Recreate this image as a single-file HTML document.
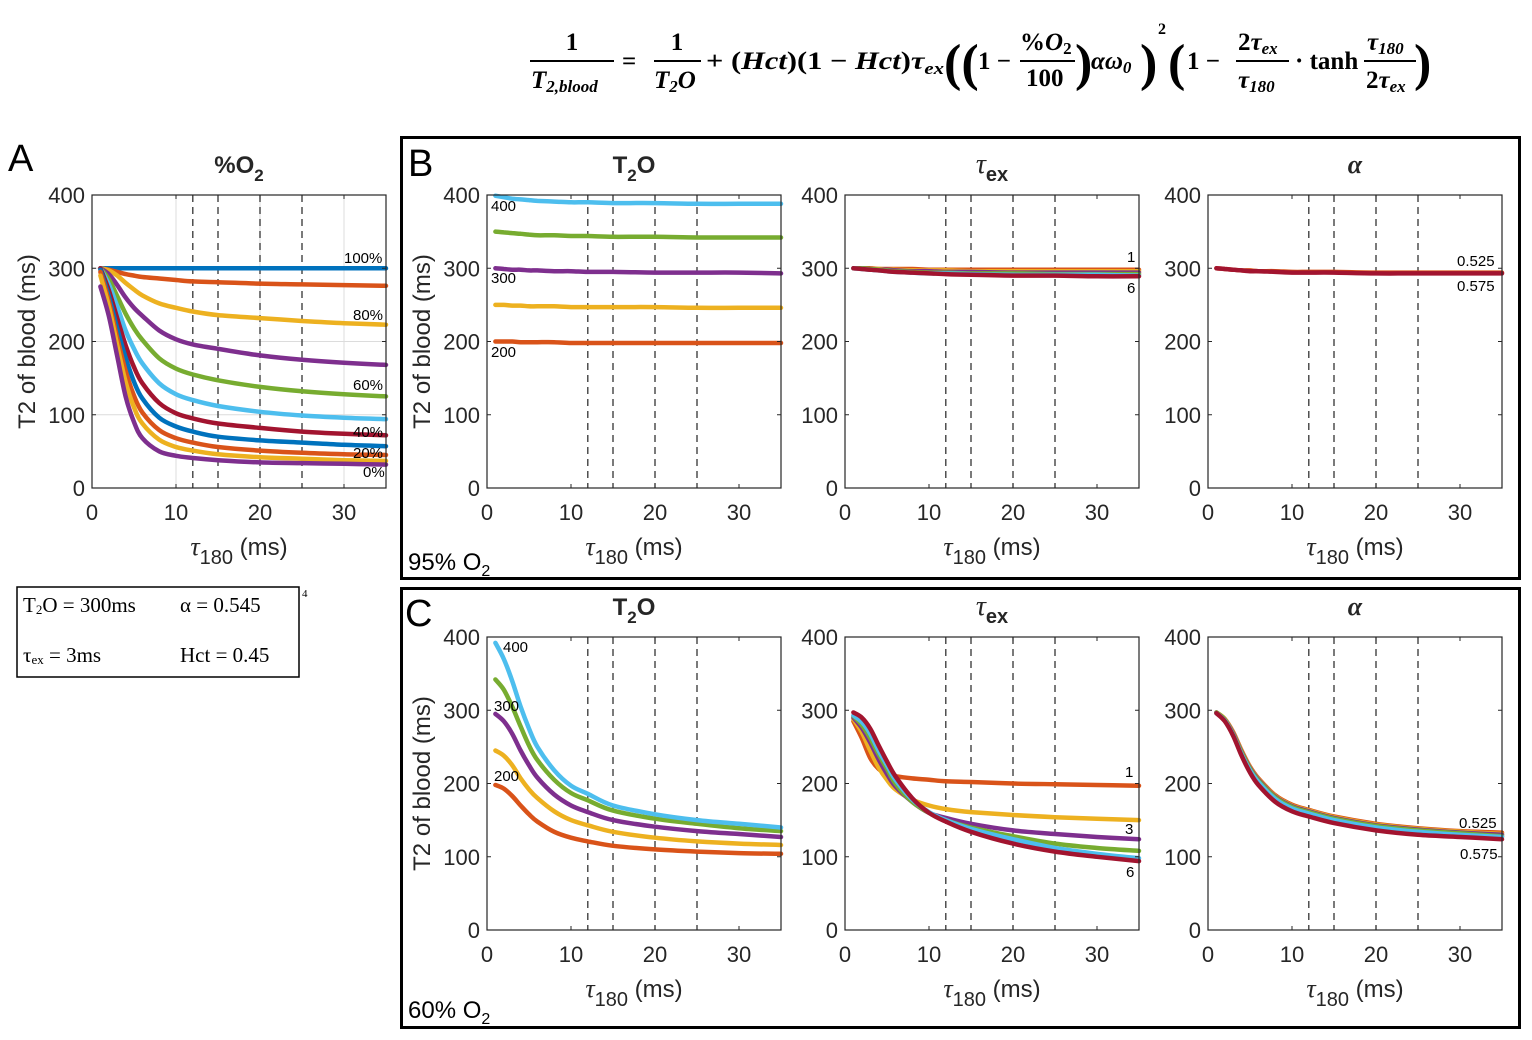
<!DOCTYPE html>
<html><head><meta charset="utf-8"><style>
html,body{margin:0;padding:0;background:#fff}
svg{display:block}
text{font-family:"Liberation Sans",sans-serif;fill:#262626}
.f{font-family:"Liberation Serif",serif;font-weight:bold;fill:#000}
</style></head><body>
<svg id="fig" width="1532" height="1040" viewBox="0 0 1532 1040" xmlns="http://www.w3.org/2000/svg">
<g id="formula" font-size="25">
<text class="f" x="572" y="50" text-anchor="middle">1</text>
<line x1="530" y1="61" x2="614" y2="61" stroke="#000" stroke-width="2"/>
<text class="f" x="531" y="88" font-style="italic">T<tspan font-size="17" dy="4">2,blood</tspan></text>
<text class="f" x="622" y="69">=</text>
<text class="f" x="677" y="50" text-anchor="middle">1</text>
<line x1="654" y1="61" x2="701" y2="61" stroke="#000" stroke-width="2"/>
<text class="f" x="654" y="88" font-style="italic">T<tspan font-size="17" dy="4">2</tspan><tspan dy="-4">O</tspan></text>
<text class="f" x="706" y="69" textLength="238" lengthAdjust="spacingAndGlyphs">+ (<tspan font-style="italic">Hct</tspan>)(1 − <tspan font-style="italic">Hct</tspan>)<tspan font-style="italic">τ</tspan><tspan font-size="17" dy="5" font-style="italic">ex</tspan></text>
<text class="f" x="944" y="80" font-size="52" font-weight="normal">((</text>
<text class="f" x="978" y="69">1 −</text>
<text class="f" x="1020" y="50">%<tspan font-style="italic">O</tspan><tspan font-size="17" dy="4">2</tspan></text>
<line x1="1020" y1="61" x2="1075" y2="61" stroke="#000" stroke-width="2"/>
<text class="f" x="1026" y="86">100</text>
<text class="f" x="1075" y="80" font-size="52" font-weight="normal">)</text>
<text class="f" x="1091" y="69" font-style="italic">αω<tspan font-size="17" dy="4">0</tspan></text>
<text class="f" x="1140" y="80" font-size="52" font-weight="normal">)</text>
<text class="f" x="1158" y="34" font-size="16">2</text>
<text class="f" x="1168" y="80" font-size="52" font-weight="normal">(</text>
<text class="f" x="1187" y="69">1 −</text>
<text class="f" x="1238" y="50">2<tspan font-style="italic">τ</tspan><tspan font-size="17" dy="4" font-style="italic">ex</tspan></text>
<line x1="1236" y1="61" x2="1289" y2="61" stroke="#000" stroke-width="2"/>
<text class="f" x="1238" y="88" font-style="italic">τ<tspan font-size="17" dy="4">180</tspan></text>
<text class="f" x="1295" y="69">· tanh</text>
<text class="f" x="1367" y="50" font-style="italic">τ<tspan font-size="17" dy="4">180</tspan></text>
<line x1="1364" y1="61" x2="1416" y2="61" stroke="#000" stroke-width="2"/>
<text class="f" x="1366" y="88">2<tspan font-style="italic">τ</tspan><tspan font-size="17" dy="4" font-style="italic">ex</tspan></text>
<text class="f" x="1414" y="80" font-size="52" font-weight="normal">)</text>
</g>
<rect x="401.5" y="137.5" width="1118" height="441" fill="none" stroke="#000" stroke-width="3"/>
<rect x="401.5" y="588.5" width="1118" height="439" fill="none" stroke="#000" stroke-width="3"/>
<g>
<rect x="17" y="587" width="282" height="90" fill="none" stroke="#000" stroke-width="1.5"/>
<text x="23" y="612" style="font-family:'Liberation Serif',serif;font-size:21px;fill:#000">T<tspan font-size="13" dy="2">2</tspan><tspan dy="-2">O = 300ms</tspan></text>
<text x="180" y="612" style="font-family:'Liberation Serif',serif;font-size:21px;fill:#000">α = 0.545</text>
<text x="23" y="662" style="font-family:'Liberation Serif',serif;font-size:21px;fill:#000">τ<tspan font-size="13" dy="2">ex</tspan><tspan dy="-2"> = 3ms</tspan></text>
<text x="180" y="662" style="font-family:'Liberation Serif',serif;font-size:21px;fill:#000">Hct = 0.45</text>
<text x="302" y="597" style="font-family:'Liberation Serif',serif;font-size:11px;fill:#000">4</text>
</g>
<text x="8" y="171" font-size="38" style="fill:#000">A</text>
<text x="408" y="176" font-size="38" style="fill:#000">B</text>
<text x="405" y="626" font-size="38" style="fill:#000">C</text>
<text x="408" y="570" font-size="24" style="fill:#000">95% O<tspan font-size="16" dy="6">2</tspan></text>
<text x="408" y="1018" font-size="24" style="fill:#000">60% O<tspan font-size="16" dy="6">2</tspan></text>
</svg>
<script>
const tau=[1,2,3,4,5,6,8,10,12,15,20,25,30,35];
const xTicks=[0,10,20,30];
const yTicks=[0,100,200,300,400];
const dashX=[12,15,20,25];
const C=['#0072BD','#D95319','#EDB120','#7E2F8E','#77AC30','#4DBEEE','#A2142F'];
// Panel A (%O2: 100..0)
const a100=[300,300,300,300,300,300,300,300,300,300,300,300,300,300];
const a90=[300,298,295,292,290,288,286,284,282,281,279,278,277,276];
const a80=[300,297,290,280,271,263,252,246,241,236,232,228,225,223];
const a70=[300,292,277,260,246,235,215,203,196,190,181,175,171,168];
const a60=[300,285,262,238,218,202,177,163,155,147,138,132,128,125];
const a50=[300,278,248,215,190,170,143,128,120,112,104,99,96,94];
const a40=[300,270,232,195,165,143,116,102,95,88,82,77,74,72];
const a30=[298,262,218,178,145,122,96,84,77,70,65,62,59,57];
const a20=[295,255,205,160,126,103,79,68,62,56,51,48,46,45];
const a10=[290,248,195,145,110,88,66,56,51,46,42,40,38,37];
const a0=[275,235,180,125,90,68,50,44,41,38,35,34,33,32];
// Panel B (95% O2)
const b1_400=[399,397,395,394,393,392,391,390,390,389,389,388,388,388];
const b1_350=[350,349,348,347,346,345,345,344,344,343,343,342,342,342];
const b1_300=[300,299,298,298,297,297,296,296,295,295,294,294,294,293];
const b1_250=[250,250,249,249,248,248,248,247,247,247,247,246,246,246];
const b1_200=[200,200,200,199,199,199,199,198,198,198,198,198,198,198];
const b2_1=[300,300,300,299,299,299,299,298,298,298,298,298,298,298];
const b2_2=[300,300,299,299,298,298,297,297,297,296,296,296,296,296];
const b2_3=[300,300,299,298,298,297,296,296,295,295,294,294,294,294];
const b2_4=[300,300,299,298,297,296,295,294,294,293,293,292,292,292];
const b2_5=[300,299,298,297,296,295,294,293,293,292,291,291,291,290];
const b2_6=[300,299,298,297,296,295,294,293,292,291,290,290,289,289];
const b3_1=[300,299,298,297,297,296,296,295,295,295,294,294,294,294];
const b3_6=[300,299,298,297,296,296,295,294,294,294,293,293,293,293];
// Panel C (60% O2)
const c1_400=[392,370,340,305,275,250,218,197,186,170,158,150,145,140];
const c1_350=[342,328,305,278,252,232,205,187,177,163,152,145,139,135];
const c1_300=[295,285,268,245,225,208,185,170,161,150,141,135,131,127];
const c1_250=[245,238,225,207,192,180,162,150,143,134,126,121,118,116];
const c1_200=[198,193,183,170,158,148,134,126,121,115,110,107,105,104];
const c2_1=[285,262,235,220,213,210,207,205,203,202,200,199,198,197];
const c2_2=[288,270,245,222,205,192,178,170,165,161,157,154,152,150];
const c2_3=[290,276,256,233,213,196,175,160,153,145,136,131,127,124];
const c2_4=[292,280,262,240,220,200,175,160,150,140,128,118,112,108];
const c2_5=[293,284,268,245,225,205,178,161,150,138,124,112,104,98];
const c2_6=[297,290,275,252,230,210,180,160,148,134,118,107,100,94];
const c3_1=[297,288,270,245,223,207,184,171,164,155,145,139,135,133];
const c3_2=[297,288,269,244,222,206,183,170,163,154,144,138,134,131];
const c3_3=[297,287,268,243,221,205,182,169,162,153,143,137,133,130];
const c3_4=[297,287,267,242,220,204,181,168,161,152,142,136,132,128];
const c3_5=[296,286,266,240,218,202,179,166,159,150,140,134,130,127];
const c3_6=[296,285,265,238,215,198,175,162,155,146,136,130,127,124];

const NS='http://www.w3.org/2000/svg';
const svg=document.getElementById('fig');
function mk(tag,attrs,parent){const e=document.createElementNS(NS,tag);for(const k in attrs)e.setAttribute(k,attrs[k]);(parent||svg).appendChild(e);return e;}
function smooth(pts){let d='M'+pts[0][0]+','+pts[0][1];for(let i=0;i<pts.length-1;i++){const p0=pts[i-1]||pts[i],p1=pts[i],p2=pts[i+1],p3=pts[i+2]||p2;const c1=[p1[0]+(p2[0]-p0[0])/6,p1[1]+(p2[1]-p0[1])/6],c2=[p2[0]-(p3[0]-p1[0])/6,p2[1]-(p3[1]-p1[1])/6];d+=' C'+c1[0].toFixed(1)+','+c1[1].toFixed(1)+' '+c2[0].toFixed(1)+','+c2[1].toFixed(1)+' '+p2[0].toFixed(1)+','+p2[1].toFixed(1);}return d;}
function panel(p){
  const W=294,H=293;
  const g=mk('g',{});
  
  
  const xs=t=>p.x0+t/35*W, ys=v=>p.y0+H-v/400*H;
  if(p.grid){
    xTicks.slice(1).forEach(t=>mk('line',{x1:xs(t),x2:xs(t),y1:p.y0,y2:p.y0+H,stroke:'#dcdcdc','stroke-width':1},g));
    yTicks.slice(1,4).forEach(v=>mk('line',{x1:p.x0,x2:p.x0+W,y1:ys(v),y2:ys(v),stroke:'#dcdcdc','stroke-width':1},g));
  }
  dashX.forEach(t=>{const l=mk('line',{x1:xs(t),x2:xs(t),y1:p.y0,y2:p.y0+H,stroke:'#333','stroke-width':1.3,'stroke-dasharray':'7,5'},g);
    
    });
  p.series.forEach((s,i)=>{
    const path=mk('path',{d:smooth(tau.map((t,j)=>[xs(t),ys(s.v[j])])),fill:'none',stroke:s.c,'stroke-width':4.5,'stroke-linecap':'round','stroke-linejoin':'round'},g);
    
    
  });
  mk('rect',{x:p.x0,y:p.y0,width:W,height:H,fill:'none',stroke:'#262626','stroke-width':1.2},g);
  xTicks.forEach(t=>{mk('line',{x1:xs(t),x2:xs(t),y1:p.y0+H,y2:p.y0+H-4,stroke:'#262626'},g);mk('line',{x1:xs(t),x2:xs(t),y1:p.y0,y2:p.y0+4,stroke:'#262626'},g);
    const tx=mk('text',{x:xs(t),y:p.y0+H+32,'text-anchor':'middle','font-size':22},g);tx.textContent=t;
    
    });
  yTicks.forEach(v=>{mk('line',{x1:p.x0,x2:p.x0+4,y1:ys(v),y2:ys(v),stroke:'#262626'},g);mk('line',{x1:p.x0+W,x2:p.x0+W-4,y1:ys(v),y2:ys(v),stroke:'#262626'},g);
    const tx=mk('text',{x:p.x0-7,y:ys(v)+8,'text-anchor':'end','font-size':22},g);tx.textContent=v;
    
    });
  const xl=mk('text',{x:p.x0+W/2,y:p.y0+H+67,'text-anchor':'middle','font-size':24},g);
  xl.innerHTML='<tspan font-family="Liberation Serif" font-style="italic" font-size="26">τ</tspan><tspan font-size="20" dy="9">180</tspan><tspan dy="-9"> (ms)</tspan>';
  
  
  if(p.ylabel){const yl=mk('text',{x:0,y:0,'text-anchor':'middle','font-size':24,transform:'translate('+(p.x0-57)+','+(p.y0+H/2)+') rotate(-90)'},g);yl.textContent='T2 of blood (ms)';
    
    }
  const ti=mk('text',{x:p.x0+W/2,y:p.y0-22,'text-anchor':'middle','font-size':24,'font-weight':'bold'},g);ti.innerHTML=p.title;
  
  
  p.labels.forEach(l=>{const t=mk('text',{x:l[0],y:l[1],'font-size':15,style:'fill:#000'},g);t.textContent=l[2];
    
    });
}
const S=(arr,cols,names)=>arr.map((v,i)=>({v:v,c:cols[i],n:names[i]}));
const T2O='T<tspan font-size="17" dy="8">2</tspan><tspan dy="-8">O</tspan>';
const TEX='<tspan font-family="Liberation Serif" font-style="italic" font-weight="normal" font-size="28">τ</tspan><tspan font-size="20" dy="8">ex</tspan>';
const ALPHA='<tspan font-family="Liberation Serif" font-style="italic" font-size="26">α</tspan>';
panel({name:'panel-a-o2',x0:92,y0:195,grid:true,ylabel:true,title:'%O<tspan font-size="17" dy="8">2</tspan>',
  series:S([a100,a90,a80,a70,a60,a50,a40,a30,a20,a10,a0],[C[0],C[1],C[2],C[3],C[4],C[5],C[6],C[0],C[1],C[2],C[3]],['100','90','80','70','60','50','40','30','20','10','0']),
  labels:[[344,263,'100%'],[353,320,'80%'],[353,390,'60%'],[353,437,'40%'],[353,458,'20%'],[363,477,'0%']]});
panel({name:'panel-b-t2o',x0:487,y0:195,ylabel:true,title:T2O,
  series:S([b1_400,b1_350,b1_300,b1_250,b1_200],[C[5],C[4],C[3],C[2],C[1]],['400','350','300','250','200']),
  labels:[[491,211,'400'],[491,283,'300'],[491,357,'200']]});
panel({name:'panel-b-tauex',x0:845,y0:195,title:TEX,
  series:S([b2_1,b2_2,b2_3,b2_4,b2_5,b2_6],[C[1],C[2],C[3],C[4],C[5],C[6]],['1','2','3','4','5','6']),
  labels:[[1127,262,'1'],[1127,293,'6']]});
panel({name:'panel-b-alpha',x0:1208,y0:195,title:ALPHA,
  series:S([b3_1,b3_6],[C[1],C[6]],['0.525','0.575']),
  labels:[[1457,266,'0.525'],[1457,291,'0.575']]});
panel({name:'panel-c-t2o',x0:487,y0:637,ylabel:true,title:T2O,
  series:S([c1_200,c1_250,c1_300,c1_350,c1_400],[C[1],C[2],C[3],C[4],C[5]],['200','250','300','350','400']),
  labels:[[503,652,'400'],[494,711,'300'],[494,781,'200']]});
panel({name:'panel-c-tauex',x0:845,y0:637,title:TEX,
  series:S([c2_1,c2_2,c2_3,c2_4,c2_5,c2_6],[C[1],C[2],C[3],C[4],C[5],C[6]],['1','2','3','4','5','6']),
  labels:[[1125,777,'1'],[1125,834,'3'],[1126,877,'6']]});
panel({name:'panel-c-alpha',x0:1208,y0:637,title:ALPHA,
  series:S([c3_1,c3_2,c3_3,c3_4,c3_5,c3_6],[C[1],C[2],C[3],C[4],C[5],C[6]],['0.525','0.535','0.545','0.555','0.565','0.575']),
  labels:[[1459,828,'0.525'],[1460,859,'0.575']]});
</script>
</body></html>
